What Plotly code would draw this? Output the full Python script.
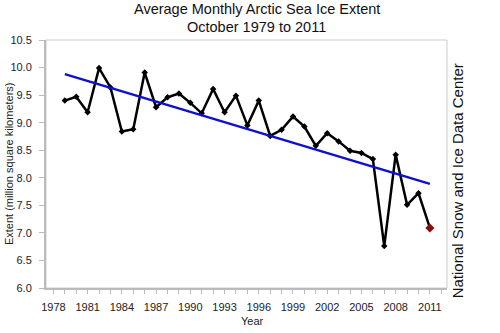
import plotly.graph_objects as go

years = list(range(1979, 2012))
extent = [9.40, 9.47, 9.19, 9.99, 9.64, 8.84, 8.88, 9.91, 9.28, 9.46, 9.53,
          9.36, 9.17, 9.61, 9.19, 9.49, 8.95, 9.40, 8.76, 8.87, 9.11, 8.93,
          8.58, 8.81, 8.66, 8.49, 8.45, 8.34, 6.76, 8.42, 7.51, 7.72]
last_year = [2011]
last_value = [7.09]
trend_years = [1979, 2011]
trend_values = [9.88, 7.89]
x_ticks = list(range(1978, 2012, 3))
y_ticks = [6.0, 6.5, 7.0, 7.5, 8.0, 8.5, 9.0, 9.5, 10.0, 10.5]
title_lines = ["Average Monthly Arctic Sea Ice Extent", "October 1979 to 2011"]

font = "Liberation Sans, Arial, sans-serif"

fig = go.Figure()
fig.add_trace(go.Scatter(
    x=years[:-1] + last_year, y=extent + last_value, mode="lines+markers",
    line=dict(color="black", width=2.5),
    marker=dict(symbol="diamond", size=5, color="black"),
    hoverinfo="skip"))
fig.add_trace(go.Scatter(
    x=trend_years, y=trend_values, mode="lines",
    line=dict(color="#1010CC", width=2.5), hoverinfo="skip"))
fig.add_trace(go.Scatter(
    x=last_year, y=last_value, mode="markers",
    marker=dict(symbol="diamond", size=7, color="#8B0A0A"),
    hoverinfo="skip"))

fig.update_layout(
    width=500, height=333, showlegend=False,
    paper_bgcolor="white", plot_bgcolor="white",
    margin=dict(l=46, r=53, t=40, b=45),
    font=dict(family=font, color="#111111"),
    xaxis=dict(range=[1977.35, 2012.5], tickmode="array", tickvals=x_ticks,
               ticktext=[str(t) for t in x_ticks], automargin=False,
               showgrid=False, zeroline=False,
               showline=True, linecolor="#BBBBBB", linewidth=2, mirror=False,
               ticks="outside", ticklen=4, tickcolor="#BBBBBB",
               ticklabelstandoff=4,
               minor=dict(dtick=1, ticks="outside", ticklen=4, tickcolor="#BBBBBB"),
               tickfont=dict(size=11, color="#222222")),
    yaxis=dict(range=[6.0, 10.5], tickmode="array", tickvals=y_ticks,
               ticktext=[f"{v:.1f}" for v in y_ticks], automargin=False,
               showgrid=False, zeroline=False,
               showline=True, linecolor="#BBBBBB", linewidth=2,
               ticks="outside", ticklen=5, tickcolor="#BBBBBB",
               ticklabelstandoff=5,
               tickfont=dict(size=11, color="#222222")),
    shapes=[dict(type="rect", xref="paper", yref="paper", x0=0, x1=1, y0=0, y1=1,
                 line=dict(color="#CCCCCC", width=1), layer="below")],
    annotations=[
        dict(text=title_lines[0], xref="paper", yref="paper", x=0.526, y=1.123,
             showarrow=False, xanchor="center", yanchor="middle",
             font=dict(size=14.5, color="#111111", family=font)),
        dict(text=title_lines[1], xref="paper", yref="paper", x=0.526, y=1.052,
             showarrow=False, xanchor="center", yanchor="middle",
             font=dict(size=14.5, color="#111111", family=font)),
        dict(text="Extent (million square kilometers)", xref="paper", yref="paper",
             x=-0.092, y=0.5, textangle=-90, showarrow=False,
             xanchor="center", yanchor="middle",
             font=dict(size=11, color="#222222", family=font)),
        dict(text="Year", xref="paper", yref="paper", x=0.515, y=-0.133,
             showarrow=False, xanchor="center", yanchor="middle",
             font=dict(size=11, color="#222222", family=font)),
        dict(text="National Snow and Ice Data Center", xref="paper", yref="paper",
             x=1.0, xshift=10, y=0.43, textangle=-90, showarrow=False,
             xanchor="center", yanchor="middle",
             font=dict(size=15, color="#111111", family=font)),
    ],
)

fig.write_html("out.html")
